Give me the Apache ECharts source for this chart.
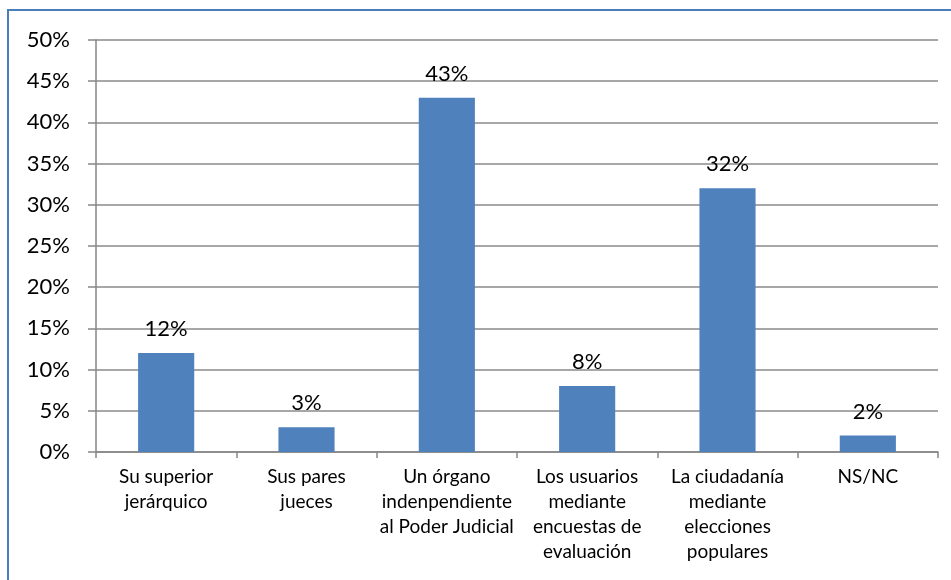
<!DOCTYPE html>
<html>
<head>
<meta charset="utf-8">
<script src="https://cdn.jsdelivr.net/npm/echarts@6/dist/echarts.min.js"></script>
<style>
html,body{margin:0;padding:0;background:#fff;}
#c{width:951px;height:580px;}
</style>
</head>
<body>
<div id="c"></div>
<script>
const categories = [
  "Su superior\njerárquico",
  "Sus pares\njueces",
  "Un órgano\nindenpendiente\nal Poder Judicial",
  "Los usuarios\nmediante\nencuestas de\nevaluación",
  "La ciudadanía\nmediante\nelecciones\npopulares",
  "NS/NC"
];
const values = [12, 3, 43, 8, 32, 2];
const yTicks = [0, 5, 10, 15, 20, 25, 30, 35, 40, 45, 50];

const FONT = 'Lato, "Noto Sans", sans-serif';
const chart = echarts.init(document.getElementById('c'), null, {renderer: 'canvas'});
chart.setOption({
  animation: false,
  backgroundColor: '#ffffff',
  graphic: [{
    type: 'rect',
    shape: {x: 8, y: 10, width: 1000, height: 1000},
    style: {fill: 'none', stroke: '#4A7EBB', lineWidth: 2},
    silent: true
  }],
  grid: {left: 96, right: 13, top: 40, bottom: 128, containLabel: false},
  xAxis: {
    type: 'category',
    data: categories,
    axisLine: {lineStyle: {color: '#868686', width: 1.5}},
    axisTick: {show: true, length: 6, alignWithLabel: false, lineStyle: {color: '#868686', width: 1.5}},
    axisLabel: {
      interval: 0, margin: 12, color: '#000', fontFamily: FONT, fontSize: 19, lineHeight: 25
    }
  },
  yAxis: {
    type: 'value',
    min: yTicks[0],
    max: yTicks[yTicks.length - 1],
    interval: 5,
    axisLine: {show: true, lineStyle: {color: '#868686', width: 1.5}},
    axisTick: {show: true, length: 8, lineStyle: {color: '#868686', width: 1.5}},
    splitLine: {show: true, lineStyle: {color: '#8a8a8a', width: 1.5}},
    axisLabel: {
      margin: 26, color: '#000', fontFamily: FONT, fontSize: 22,
      formatter: v => v + '%'
    }
  },
  series: [{
    type: 'bar',
    data: values,
    barWidth: '40%',
    itemStyle: {color: '#4F81BD'},
    label: {
      show: true, position: 'top', distance: 13,
      color: '#000', fontFamily: FONT, fontSize: 22,
      formatter: p => p.value + '%'
    }
  }]
});
</script>
</body>
</html>
